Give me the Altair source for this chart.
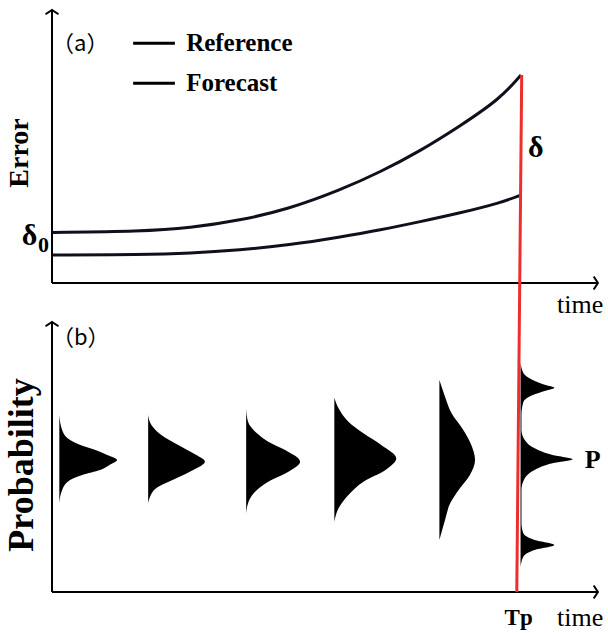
import altair as alt
import pandas as pd

# ---------------- panel (a): error growth ----------------
time_a = [0, 1.9, 2.95, 4.0, 5.05, 6.15, 7.0, 7.85, 8.7, 9.55, 10.0]
reference_err = [5.05, 5.15, 5.5, 6.25, 7.4, 9.3, 11.1, 13.2, 15.7, 18.4, 20.8]
forecast_err = [2.8, 2.83, 2.97, 3.3, 3.8, 4.6, 5.3, 6.13, 7.0, 8.0, 8.8]
series_names = ["Reference", "Forecast"]

# ---------------- panel (b): probability distributions ----------------
dist_base = [0.156, 2.05, 4.14, 6.02, 8.26, 9.99]
dist_state = [
    [17.7, 16.2, 15.2, 14.7, 14.2, 13.7, 13.2, 12.7, 12.2, 11.7, 11.2, 10.2, 8.9],
    [17.7, 16.7, 15.7, 14.7, 13.87, 13.03, 12.2, 11.37, 10.37, 9.53, 8.9],
    [18.3, 17.03, 15.87, 15.03, 14.2, 13.03, 12.03, 11.03, 10.03, 9.03, 7.87],
    [19.43, 18.37, 17.03, 15.87, 14.7, 13.37, 12.2, 11.03, 9.7, 8.37, 7.03],
    [21.2, 19.53, 17.87, 16.2, 14.7, 13.2, 11.7, 10.2, 8.87, 7.2, 5.2],
    [23.0, 21.9, 21.2, 20.7, 20.43, 20.13, 19.7, 19.0, 17.7, 16.2, 15.2, 14.37,
     13.7, 13.27, 12.87, 12.2, 11.37, 10.2, 6.9, 5.87, 5.2, 4.7, 4.2, 3.53, 2.5],
]
dist_width = [
    [0, 0.06, 0.23, 0.45, 0.77, 1.02, 1.23, 1.07, 0.87, 0.49, 0.23, 0.06, 0],
    [0, 0.07, 0.28, 0.64, 0.96, 1.21, 0.96, 0.60, 0.17, 0.04, 0],
    [0, 0.04, 0.23, 0.47, 0.83, 1.15, 0.90, 0.47, 0.19, 0.05, 0],
    [0, 0.09, 0.30, 0.62, 1.00, 1.32, 1.09, 0.62, 0.30, 0.09, 0],
    [0, 0.12, 0.26, 0.51, 0.68, 0.76, 0.65, 0.41, 0.23, 0.12, 0],
    [0, 0.06, 0.26, 0.53, 0.72, 0.53, 0.26, 0.06, 0.02, 0.02, 0.09, 0.30,
     0.68, 1.11, 0.68, 0.30, 0.09, 0.02, 0.02, 0.06, 0.30, 0.72, 0.30, 0.06, 0],
]

# ---------------- scales ----------------
XS = alt.Scale(domain=[-1.109, 11.855], nice=False, zero=False)
YA = alt.Scale(domain=[-35.0, 28.3], nice=False, zero=False)
YB = alt.Scale(domain=[-4.1, 59.2], nice=False, zero=False)

INK = "#10101c"
RED = "#ee2d2d"
SERIF = "Liberation Serif"
CJK = "Noto Sans CJK SC"


def xq(f):
    return alt.X(f, type="quantitative", scale=XS, axis=None)


def ya(f):
    return alt.Y(f, type="quantitative", scale=YA, axis=None)


def yb(f):
    return alt.Y(f, type="quantitative", scale=YB, axis=None)


def text_layer(rows, yenc, **kw):
    df = pd.DataFrame(rows, columns=["t", "v", "label"])
    return alt.Chart(df).mark_text(**kw).encode(x=xq("t"), y=yenc("v"), text="label:N")


# ---- curves
curve_rows = []
for name, vals in zip(series_names, [reference_err, forecast_err]):
    for t, e in zip(time_a, vals):
        curve_rows.append({"series": name, "t": t, "err": e})
curves = alt.Chart(pd.DataFrame(curve_rows)).mark_line(
    interpolate="basis", strokeWidth=3, color=INK
).encode(x=xq("t"), y=ya("err"), detail="series:N")

# ---- legend keys
leg_df = pd.DataFrame({"t0": [1.73, 1.73], "t1": [2.62, 2.62], "e": [23.97, 19.97],
                       "label": series_names})
leg_lines = alt.Chart(leg_df).mark_rule(strokeWidth=3, color="black").encode(
    x=xq("t0"), x2="t1", y=ya("e"))
leg_text = alt.Chart(leg_df).mark_text(
    align="left", baseline="middle", font=SERIF, fontWeight="bold", fontSize=25, color="black"
).encode(x=alt.X("t0_txt:Q", scale=XS, axis=None), y=ya("e"), text="label:N").transform_calculate(
    t0_txt="datum.t1 + 0.24")

# ---- axes for panel (a)
ax_a = pd.DataFrame({"t0": [0, 0], "t1": [0, 11.64], "e0": [0, 0], "e1": [27.3, 0]})
axes_a = alt.Chart(ax_a).mark_rule(strokeWidth=2, color="black").encode(
    x=xq("t0"), x2="t1", y=ya("e0"), y2="e1")
tip_up_a = alt.Chart(pd.DataFrame({"t": [0], "e": [27.3]})).mark_point(
    shape="M-1,0.65L0,0L1,0.65", size=169, filled=False, stroke="black", strokeWidth=2, opacity=1
).encode(x=xq("t"), y=ya("e"))
tip_rt_a = alt.Chart(pd.DataFrame({"t": [11.64], "e": [0]})).mark_point(
    shape="M-0.65,-1L0,0L-0.65,1", size=169, filled=False, stroke="black", strokeWidth=2, opacity=1
).encode(x=xq("t"), y=ya("e"))

# ---- red Tp line
red = alt.Chart(pd.DataFrame({"t0": [10.015], "t1": [9.91], "e0": [20.8], "e1": [-30.9]})).mark_rule(
    strokeWidth=3, color=RED).encode(x=xq("t0"), x2="t1", y=ya("e0"), y2="e1")

# ---- panel (a) labels
lab_a = text_layer([[0.0, 23.9, "（a）"]], ya, align="left", baseline="middle",
                   font=CJK, fontSize=22, color="black")
lab_err = text_layer([[-0.68, 13.0, "Error"]], ya, angle=270, align="center", baseline="middle",
                     font=SERIF, fontWeight="bold", fontSize=28, color="black")
lab_d0 = text_layer([[-0.646, 3.8, "δ"]], ya, align="left", baseline="alphabetic",
                    font=SERIF, fontWeight="bold", fontSize=30, color="black")
lab_d0s = text_layer([[-0.30, 3.1, "0"]], ya, align="left", baseline="alphabetic",
                     font=SERIF, fontWeight="bold", fontSize=22, color="black")
lab_d = text_layer([[10.15, 12.6, "δ"]], ya, align="left", baseline="alphabetic",
                   font=SERIF, fontWeight="bold", fontSize=30, color="black")
lab_time_a = text_layer([[10.77, -2.2, "time"]], ya, align="left", baseline="middle",
                        font=SERIF, fontSize=26, color="black")

panel_a = alt.layer(curves, leg_lines, leg_text, axes_a, tip_up_a, tip_rt_a, red,
                    lab_a, lab_err, lab_d0, lab_d0s, lab_d, lab_time_a)

# ---- distributions
dist_rows = []
for k, (b, vs, ws) in enumerate(zip(dist_base, dist_state, dist_width)):
    for i, (v, w) in enumerate(zip(vs, ws)):
        dist_rows.append({"shape": k, "i": i, "v": v, "base": b, "tip": b + w})
dists = alt.Chart(pd.DataFrame(dist_rows)).mark_area(
    orient="horizontal", interpolate="monotone", color="black"
).encode(x=alt.X("tip:Q", scale=XS, axis=None, stack=None), x2="base:Q", y=yb("v"),
         detail="shape:N")

ax_b = pd.DataFrame({"t0": [0, 0], "t1": [0, 11.64], "v0": [0, 0], "v1": [27.0, 0]})
axes_b = alt.Chart(ax_b).mark_rule(strokeWidth=2, color="black").encode(
    x=xq("t0"), x2="t1", y=yb("v0"), y2="v1")
tip_up_b = alt.Chart(pd.DataFrame({"t": [0], "v": [27.0]})).mark_point(
    shape="M-1,0.65L0,0L1,0.65", size=169, filled=False, stroke="black", strokeWidth=2, opacity=1
).encode(x=xq("t"), y=yb("v"))
tip_rt_b = alt.Chart(pd.DataFrame({"t": [11.64], "v": [0]})).mark_point(
    shape="M-0.65,-1L0,0L-0.65,1", size=169, filled=False, stroke="black", strokeWidth=2, opacity=1
).encode(x=xq("t"), y=yb("v"))

lab_b = text_layer([[0.0, 25.4, "（b）"]], yb, align="left", baseline="middle",
                   font=CJK, fontSize=22, color="black")
lab_prob = text_layer([[-0.64, 12.7, "Probability"]], yb, angle=270, align="center",
                      baseline="middle", font=SERIF, fontWeight="bold", fontSize=36, color="black")
lab_p = text_layer([[11.36, 13.2, "P"]], yb, align="left", baseline="middle",
                   font=SERIF, fontWeight="bold", fontSize=26, color="black")
lab_tp = text_layer([[9.95, -2.6, "Tp"]], yb, align="center", baseline="middle",
                    font=SERIF, fontWeight="bold", fontSize=23, color="black")
lab_time_b = text_layer([[10.77, -2.6, "time"]], yb, align="left", baseline="middle",
                        font=SERIF, fontSize=26, color="black")

panel_b = alt.layer(dists, axes_b, tip_up_b, tip_rt_b, lab_b, lab_prob, lab_p, lab_tp, lab_time_b)

chart = alt.layer(panel_b, panel_a).resolve_scale(y="independent").properties(
    width=608, height=633, autosize=alt.AutoSizeParams(type="none"), padding=0,
    background="white"
).configure_view(stroke=None)

chart.save("out.html", embed_options={"renderer": "svg", "actions": False})
